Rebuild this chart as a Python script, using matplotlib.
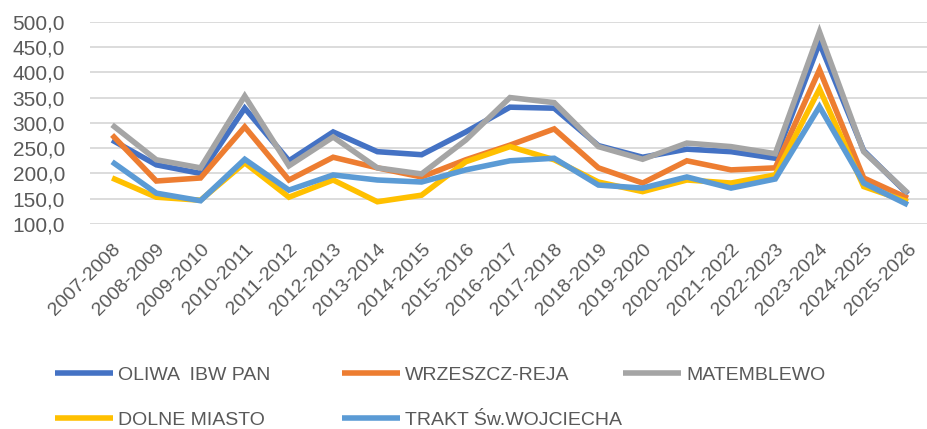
import matplotlib
matplotlib.use("Agg")
import matplotlib.pyplot as plt
from matplotlib.ticker import FuncFormatter

seasons = ["2007-2008", "2008-2009", "2009-2010", "2010-2011", "2011-2012",
           "2012-2013", "2013-2014", "2014-2015", "2015-2016", "2016-2017",
           "2017-2018", "2018-2019", "2019-2020", "2020-2021", "2021-2022",
           "2022-2023", "2023-2024", "2024-2025", "2025-2026"]

oliwa = [266, 217, 200, 329, 225, 282, 243, 237, 282, 331, 329, 255, 232, 248, 243, 230, 458, 245, 159]
wrzeszcz = [276, 185, 191, 292, 187, 232, 211, 193, 227, 256, 288, 211, 181, 225, 207, 211, 405, 191, 151]
matemblewo = [296, 227, 211, 353, 215, 272, 211, 199, 266, 350, 340, 253, 228, 260, 253, 239, 480, 243, 161]
dolne = [191, 153, 147, 221, 153, 187, 144, 157, 223, 253, 227, 183, 164, 187, 181, 197, 367, 174, 144]
trakt = [223, 161, 146, 228, 167, 197, 187, 183, 207, 225, 230, 177, 171, 193, 171, 189, 332, 181, 138]

series = [
    ("OLIWA  IBW PAN", oliwa, "#4472C4"),
    ("WRZESZCZ-REJA", wrzeszcz, "#ED7D31"),
    ("MATEMBLEWO", matemblewo, "#A5A5A5"),
    ("DOLNE MIASTO", dolne, "#FFC000"),
    ("TRAKT Św.WOJCIECHA", trakt, "#5B9BD5"),
]

plt.rcParams['font.family'] = ['Liberation Sans', 'DejaVu Sans']
text_col = "#595959"

fig = plt.figure(figsize=(9.27, 4.29), dpi=100)
ax = fig.add_axes([90 / 927, 1 - 224 / 429, 840 / 927, (224 - 21.7) / 429])

lines = []
x = list(range(len(seasons)))
for name, vals, col in series:
    ln, = ax.plot(x, vals, color=col, lw=4, label=name, solid_joinstyle="miter",
                  solid_capstyle="butt")
    lines.append(ln)

ax.set_xlim(-0.5, len(seasons) - 0.5)
ax.set_ylim(100, 500)
ax.set_yticks(range(100, 501, 50))
ax.yaxis.set_major_formatter(FuncFormatter(lambda v, p: f"{v:.1f}".replace(".", ",")))
ax.grid(axis="y", color="#D9D9D9", lw=1.3)
ax.set_axisbelow(True)
for s in ax.spines.values():
    s.set_visible(False)

ax.set_xticks(x)
ax.set_xticklabels(seasons, rotation=45, ha="right", rotation_mode="anchor")
ax.tick_params(axis="both", length=0, colors=text_col, labelsize=14)
ax.tick_params(axis="x", pad=12)
ax.tick_params(axis="y", pad=18, labelsize=15)

# legend items placed like the Excel legend (row-major, fixed columns)
positions = [(55, 375), (342, 375), (623, 375), (55, 420), (342, 420)]
for ln, (px, py) in zip(lines, positions):
    fig.legend(handles=[ln], loc="center left", bbox_to_anchor=(px / 927, 1 - py / 429),
               frameon=False, fontsize=14, handlelength=3.0, handletextpad=0.25,
               borderpad=0, borderaxespad=0, labelcolor=text_col)

fig.savefig("out.png", dpi=100)
